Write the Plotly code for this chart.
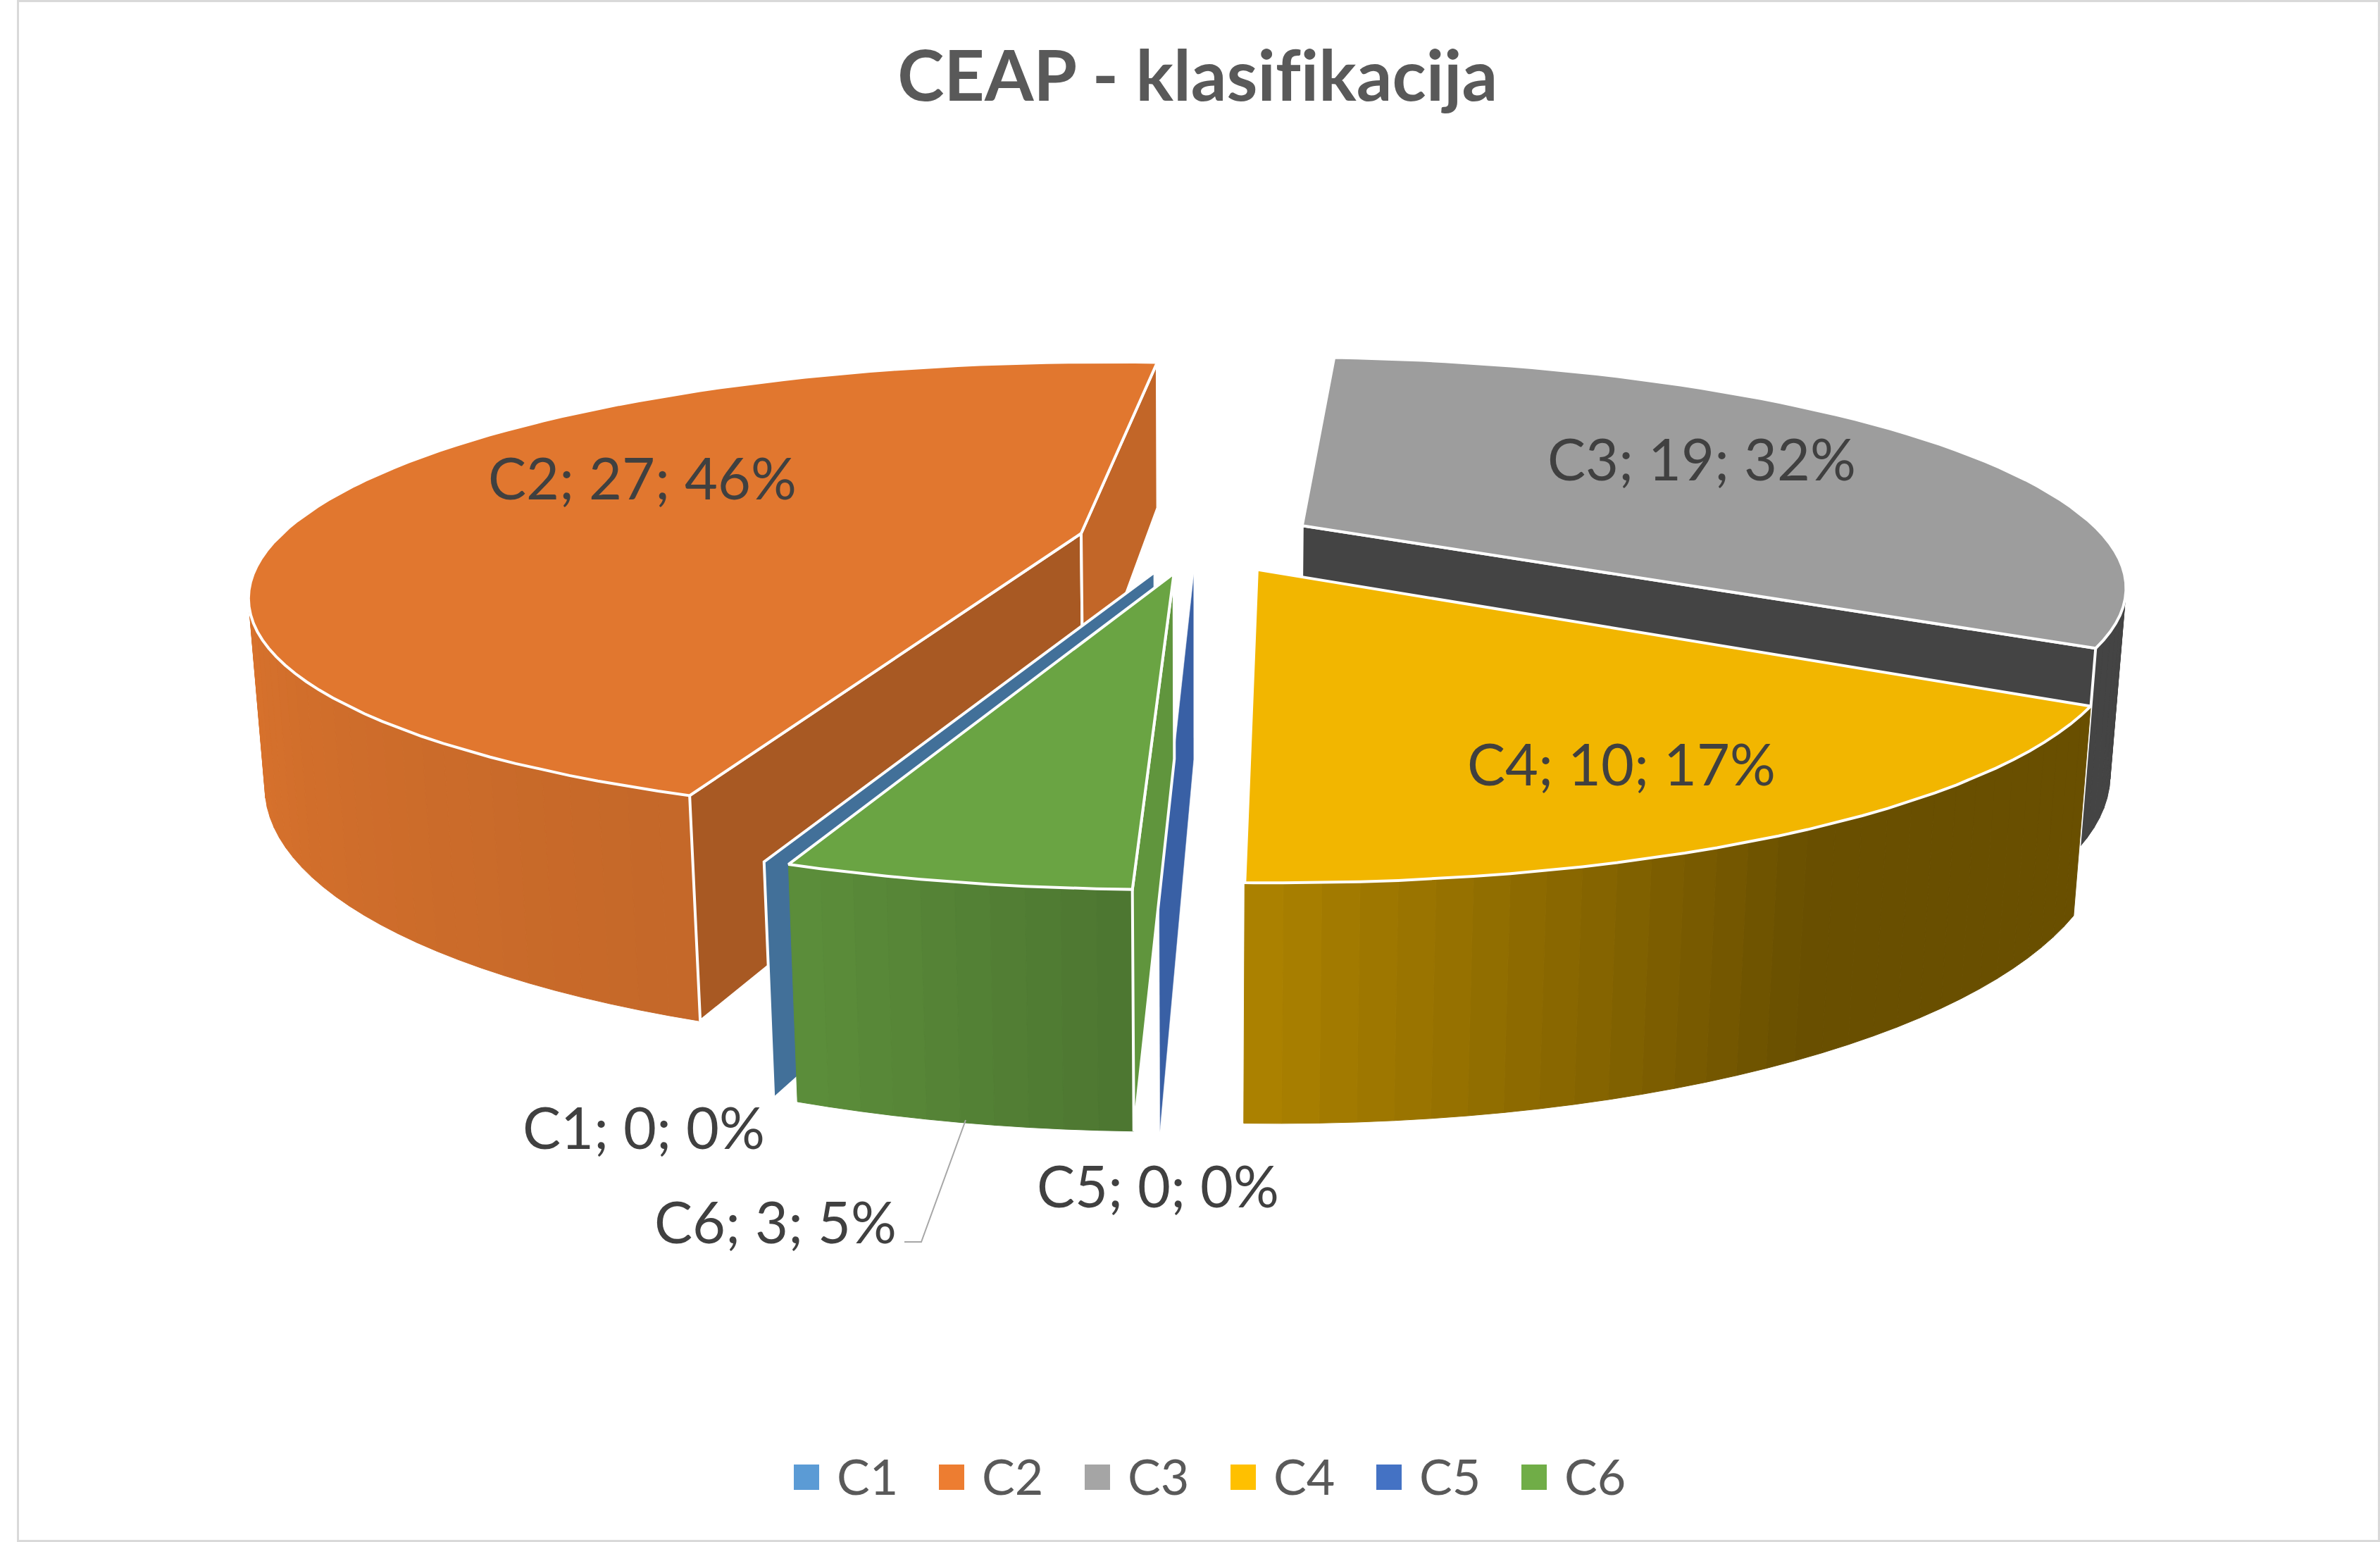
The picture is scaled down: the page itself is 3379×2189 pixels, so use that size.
import numpy as np
import plotly.graph_objects as go

# ---- data ----
CATEGORIES = ["C1", "C2", "C3", "C4", "C5", "C6"]
VALUES = [0, 27, 19, 10, 0, 3]
COLORS = ["#5B9BD5", "#ED7D31", "#A5A5A5", "#FFC000", "#4472C4", "#70AD47"]
TITLE = "CEAP - klasifikacija"

# ---- 3-D pie geometry (pixel space of the page) ----
W, H = 3379, 2189
X0, Y0 = 1700.0, 767.0   # projected pie centre
A = 1143.0               # horizontal radius
SIN_T = 0.27             # tilt
K = 0.25                 # perspective strength
DEPTH = 0.235            # thickness in radius units
PULL = 0.149             # explosion
START = 200.0            # first slice angle, clockwise from far side
COS_T = float(np.sqrt(1 - SIN_T ** 2))
D = COS_T / K
F = A * D

# shading of a wall as a function of the direction it faces
SHADE_ANG = [60, 150, 183, 201, 270, 420]
SHADE_VAL = [0.41, 0.41, 0.69, 0.83, 0.94, 0.94]
RADIAL_SHADE = {"C1": (0.72, 0.72), "C2": (0.71, 0.82), "C3": (0.41, 0.41),
                "C4": (0.7, 0.7), "C5": (0.84, 0.84), "C6": (0.86, 0.86)}
RADIAL_LINE = {"C1": 4, "C2": 4, "C3": 4, "C4": 4, "C5": 0.5, "C6": 4}
DRAW_ORDER = ["C3", "C2", "C1", "C5", "C4", "C6"]

LABEL_POS = {"C1": (914, 1599), "C2": (912, 677), "C3": (2416, 650),
             "C4": (2302, 1083), "C5": (1644, 1682), "C6": (1101, 1733)}
LEADER_X = [1371, 1308, 1284]
LEADER_Y = [1590, 1763, 1763]
LEGEND_X = [1145, 1351, 1558, 1765, 1972, 2178]
LEGEND_Y = 2097


def project(u, v, z):
    u, v = np.asarray(u, float), np.asarray(v, float)
    dd = D + v * COS_T - z * SIN_T
    return X0 + F * u / dd, Y0 - F * (v * SIN_T + z * COS_T) / dd


def rgb(hexstr, f=1.0):
    r, g, b = [int(hexstr[i:i + 2], 16) for i in (1, 3, 5)]
    return f"rgb({round(r * f)},{round(g * f)},{round(b * f)})"


def poly(fig, xs, ys, fill, line, width, name):
    fig.add_trace(go.Scatter(
        x=list(xs) + [xs[0]], y=list(ys) + [ys[0]], mode="lines", fill="toself",
        fillcolor=fill, line=dict(color=line, width=width), hoverinfo="name",
        name=name, showlegend=False))


total = sum(VALUES)
spans, a = {}, START
for c, val in zip(CATEGORIES, VALUES):
    spans[c] = (a, a + val / total * 360)
    a = spans[c][1]

fig = go.Figure()

for c in DRAW_ORDER:
    i = CATEGORIES.index(c)
    col = COLORS[i]
    a0, a1 = spans[c]
    mid = np.radians((a0 + a1) / 2)
    cu, cv = PULL * np.sin(mid), PULL * np.cos(mid)
    ang = np.linspace(a0, a1, max(2, int((a1 - a0) / 2.0) + 2))
    eu = cu + np.sin(np.radians(ang))
    ev = cv + np.cos(np.radians(ang))
    xt, yt = project(eu, ev, 0)
    xb, yb = project(eu, ev, -DEPTH)
    # outer wall, band by band, farthest first
    if a1 > a0:
        for j in sorted(range(len(ang) - 1), key=lambda n: -(ev[n] + ev[n + 1])):
            am = ((ang[j] + ang[j + 1]) / 2) % 360
            wedge = am if am > 60 else am + 360
            fc = rgb(col, float(np.interp(wedge, SHADE_ANG, SHADE_VAL)))
            poly(fig, [xt[j], xt[j + 1], xb[j + 1], xb[j]], [yt[j], yt[j + 1], yb[j + 1], yb[j]],
                 fc, fc, 1, f"{c} rim")
    # radial walls that face the viewer (zero slices show their single wall)
    s0, s1 = RADIAL_SHADE[c]
    walls = [(0, a0 - 90, s0), (-1, a1 + 90, s1)] if a1 > a0 else [(0, None, s0)]
    for idx, normal, s in walls:
        if normal is not None:
            nu, nv = np.sin(np.radians(normal)), np.cos(np.radians(normal))
            if nu * (-cu) + nv * (-D * COS_T - cv) <= 0:
                continue
        rxt, ryt = project([cu, eu[idx]], [cv, ev[idx]], 0)
        rxb, ryb = project([cu, eu[idx]], [cv, ev[idx]], -DEPTH)
        poly(fig, [rxt[0], rxt[1], rxb[1], rxb[0]], [ryt[0], ryt[1], ryb[1], ryb[0]],
             rgb(col, s), "white", RADIAL_LINE[c], f"{c} side")
    if a1 <= a0:
        continue
    # top face
    cx, cy = project(cu, cv, 0)
    poly(fig, [float(cx)] + list(xt), [float(cy)] + list(yt), rgb(col, 0.95), "white", 4, c)

# leader line of the C6 label
fig.add_trace(go.Scatter(x=LEADER_X, y=LEADER_Y, mode="lines", showlegend=False,
                         line=dict(color="#A6A6A6", width=2), hoverinfo="skip"))

# legend swatches
fig.add_trace(go.Scatter(x=LEGEND_X, y=[LEGEND_Y] * 6, mode="markers", showlegend=False,
                         marker=dict(symbol="square", size=36, color=COLORS, line=dict(width=0)),
                         hovertext=CATEGORIES, hoverinfo="text"))

ann = [dict(x=1700, y=104, text=f"<b>{TITLE}</b>", showarrow=False,
            font=dict(family="Lato", size=100, color="#595959"))]
for c, val in zip(CATEGORIES, VALUES):
    lx, ly = LABEL_POS[c]
    ann.append(dict(x=lx, y=ly, text=f"{c}; {val}; {round(val / total * 100)}%", showarrow=False,
                    font=dict(family="Lato", size=81, color="#404040")))
for c, lx in zip(CATEGORIES, LEGEND_X):
    ann.append(dict(x=lx + 41, y=LEGEND_Y - 2, text=c, showarrow=False, xanchor="left",
                    font=dict(family="Lato", size=70, color="#595959")))

fig.update_layout(
    width=W, height=H, margin=dict(l=0, r=0, t=0, b=0), paper_bgcolor="white", plot_bgcolor="white",
    xaxis=dict(range=[0, W], visible=False, fixedrange=True),
    yaxis=dict(range=[H, 0], visible=False, fixedrange=True),
    showlegend=False, annotations=ann,
    shapes=[dict(type="rect", x0=25.5, y0=1.5, x1=W - 1.5, y1=H - 1.5, line=dict(color="#D9D9D9", width=3))],
)
fig.write_html(
    "out.html",
    config=dict(displayModeBar=False),
    post_script=("document.body.style.margin='0';document.body.style.overflow='hidden';"
                 "document.querySelectorAll('text').forEach(function(t){"
                 "t.style.fontVariantLigatures='none';t.style.letterSpacing='0.02px';});"),
)
